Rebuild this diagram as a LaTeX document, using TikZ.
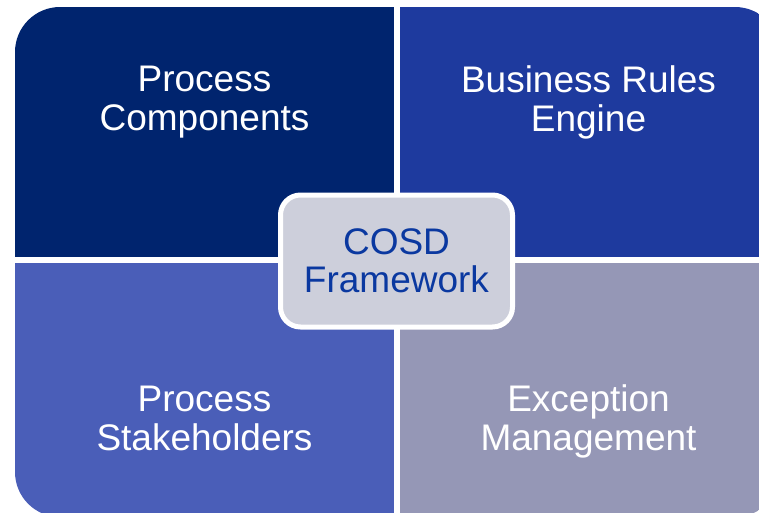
\documentclass[tikz,border=0pt]{standalone}
\usepackage{fontspec}
\setmainfont{Liberation Sans}
\definecolor{quadA}{RGB}{0,36,110}
\definecolor{quadB}{RGB}{30,58,158}
\definecolor{quadC}{RGB}{74,94,184}
\definecolor{quadD}{RGB}{149,151,182}
\definecolor{hubfill}{RGB}{205,207,219}
\definecolor{hubtext}{RGB}{10,56,160}
\tikzset{
  label/.style={text=white, align=center, font=\fontsize{37}{39}\selectfont},
  hub/.style={fill=hubfill, draw=white, line width=5pt, rounded corners=20pt,
    minimum width=232pt, minimum height=132pt, text=hubtext, align=center,
    font=\fontsize{37}{38}\selectfont}
}
\begin{document}
\begin{tikzpicture}[x=1pt,y=-1pt]
        \useasboundingbox (0,0) rectangle (759,512);
        \clip (0,0) rectangle (759,512);

        % Matrix quadrants
        \begin{scope}
          \clip[rounded corners=45pt] (15,7) rectangle (780,517);
          \fill[quadA] (15,7) rectangle (394,257);
          \fill[quadB] (400,7) rectangle (780,257);
          \fill[quadC] (15,263) rectangle (394,517);
          \fill[quadD] (400,263) rectangle (780,517);
        \end{scope}

        \node[label] (components) at (204.5,102) {Process\\Components};
        \node[label] (rules) at (588.5,102) {Business Rules\\Engine};
        \node[label] (stakeholders) at (204.5,418) {Process\\Stakeholders};
        \node[label] (exception) at (588.5,421) {Exception\\Management};

        % Centre box
        \node[hub] (cosd) at (396.5,261) {COSD\\Framework};
    \end{tikzpicture}
\end{document}
